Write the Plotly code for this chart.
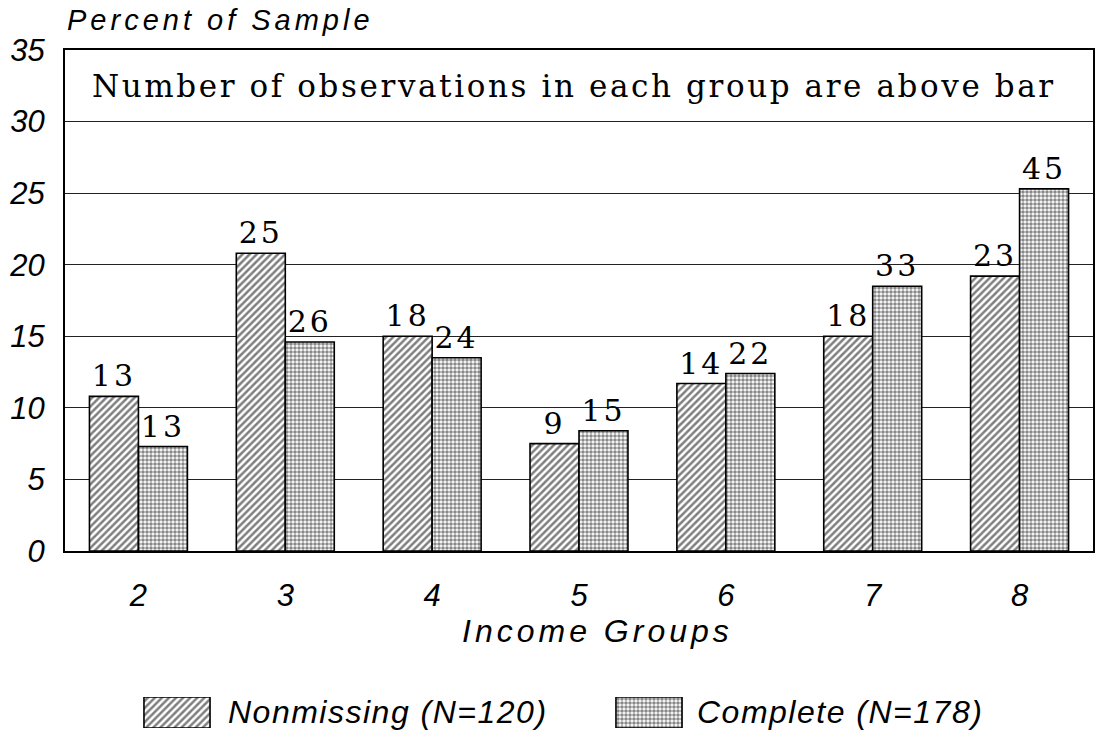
import plotly.graph_objects as go

# ---------------- data ----------------
groups = ["2", "3", "4", "5", "6", "7", "8"]
pct_nonmissing = [10.8, 20.8, 15.0, 7.5, 11.7, 15.0, 19.2]
pct_complete = [7.3, 14.6, 13.5, 8.4, 12.4, 18.5, 25.3]
n_nonmissing = [13, 25, 18, 9, 14, 18, 23]
n_complete = [13, 26, 24, 15, 22, 33, 45]
series_names = ["Nonmissing (N=120)", "Complete (N=178)"]
y_ticks = [0, 5, 10, 15, 20, 25, 30, 35]
y_title = "Percent of Sample"
x_title = "Income Groups"
note = "Number of observations in each group are above bar"

# ---------------- layout constants ----------------
W, H = 1099, 739
PL, PR, PT, PB = 65, 1093, 50, 551  # plot area in pixels

SANS = "Liberation Sans, Arial, sans-serif"
SERIF = "DejaVu Serif, serif"


def spaced(s, px):
    return f'<span style="letter-spacing:{px}px">{s}</span>'


hatch = dict(shape="/", size=5, solidity=0.5, fgcolor="black", bgcolor="white", fillmode="overlay")
dots = dict(shape=".", size=4, solidity=0.62, fgcolor="#111", bgcolor="white", fillmode="overlay")
patterns = [hatch, dots]

fig = go.Figure()

for name, vals, counts, pat in [
    (series_names[0], pct_nonmissing, n_nonmissing, hatch),
    (series_names[1], pct_complete, n_complete, dots),
]:
    fig.add_trace(go.Bar(
        x=groups, y=vals, name=name,
        text=[spaced(str(c), 3) for c in counts],
        textposition="outside",
        textfont=dict(family=SERIF, size=30, color="black"),
        cliponaxis=False,
        marker=dict(color="white", pattern=pat, line=dict(color="black", width=1.6)),
        showlegend=False,
        xaxis="x", yaxis="y",
    ))

# legend swatches drawn on a hidden helper axis
for i, pat in enumerate(patterns):
    fig.add_trace(go.Bar(
        x=[i], y=[1], width=[0.14],
        marker=dict(color="white", pattern=pat, line=dict(color="black", width=1.6)),
        showlegend=False, hoverinfo="skip",
        xaxis="x2", yaxis="y2",
    ))

fig.update_layout(
    width=W, height=H,
    margin=dict(l=0, r=0, t=0, b=0, autoexpand=False),
    paper_bgcolor="white", plot_bgcolor="white",
    barmode="group", bargap=0.333, bargroupgap=0.0,
    showlegend=False,
    xaxis=dict(
        domain=[PL / W, PR / W], anchor="y", automargin=False,
        type="category",
        showline=True, linecolor="black", linewidth=2, mirror=True,
        showgrid=False, ticks="",
        tickfont=dict(family=SANS, size=31, color="black", style="italic"),
        ticklabelstandoff=16,
    ),
    yaxis=dict(
        domain=[(H - PB) / H, (H - PT) / H], anchor="x", automargin=False,
        range=[0, 35], tickvals=y_ticks, ticktext=[str(t) for t in y_ticks],
        showline=True, linecolor="black", linewidth=2, mirror=True,
        showgrid=True, gridcolor="#222", gridwidth=1,
        zeroline=False, ticks="",
        tickfont=dict(family=SANS, size=31, color="black", style="italic"),
        ticklabelstandoff=12,
    ),
    xaxis2=dict(domain=[0, 1], anchor="y2", automargin=False,
                range=[-177 / 472, (W - 177) / 472], visible=False),
    yaxis2=dict(domain=[(H - 728) / H, (H - 697) / H], anchor="x2", automargin=False,
                range=[0, 1], visible=False),
)

annotations = [
    dict(text=spaced(note, 2.6), xref="x domain", yref="y", x=0.495, y=32.5,
         xanchor="center", yanchor="middle", showarrow=False,
         font=dict(family=SERIF, size=31, color="black")),
    dict(text=spaced(y_title, 4), xref="paper", yref="paper", x=PL / W, y=(H - 20) / H,
         xanchor="left", yanchor="middle", showarrow=False,
         font=dict(family=SANS, size=29, color="black", style="italic")),
    dict(text=spaced(x_title, 4), xref="paper", yref="paper", x=597 / W, y=(H - 631) / H,
         xanchor="center", yanchor="middle", showarrow=False,
         font=dict(family=SANS, size=32, color="black", style="italic")),
    dict(text=spaced(series_names[0], 1.5), xref="paper", yref="paper", x=226 / W, y=(H - 712) / H,
         xanchor="left", yanchor="middle", showarrow=False,
         font=dict(family=SANS, size=32, color="black", style="italic")),
    dict(text=spaced(series_names[1], 1.5), xref="paper", yref="paper", x=695 / W, y=(H - 712) / H,
         xanchor="left", yanchor="middle", showarrow=False,
         font=dict(family=SANS, size=32, color="black", style="italic")),
]
fig.update_layout(annotations=annotations)

fig.write_html("out.html", config={"displayModeBar": False},
               post_script="document.body.style.margin='0';")
